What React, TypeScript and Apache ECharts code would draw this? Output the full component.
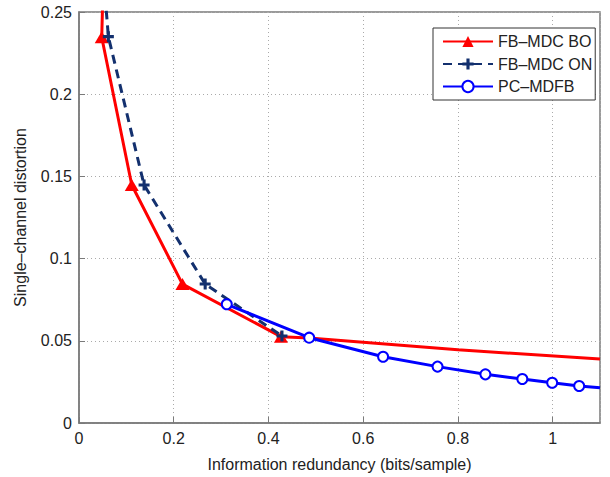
import React, { useEffect, useRef } from "react";
import * as echarts from "echarts";

const xTicks = [0, 0.2, 0.4, 0.6, 0.8, 1];
const yTicks = [0, 0.05, 0.1, 0.15, 0.2, 0.25];

const seriesNames = ["FB–MDC BO", "FB–MDC ON", "PC–MDFB"];

// FB-MDC BO (red, triangles)
const boX = [0.0503, 0.048, 0.1114, 0.2184, 0.4264, 0.486, 0.8, 1.1];
const boY = [0.26, 0.2346, 0.1448, 0.0845, 0.0525, 0.0517, 0.0445, 0.0389];
const boMarked = [false, true, true, true, true, false, false, false];

// FB-MDC ON (navy dashed, plus)
const onX = [0.055, 0.062, 0.1374, 0.2664, 0.4285];
const onY = [0.26, 0.235, 0.1448, 0.0845, 0.0529];
const onMarked = [false, true, true, true, true];

// PC-MDFB (blue, circles)
const pcX = [0.312, 0.486, 0.642, 0.757, 0.858, 0.936, 0.999, 1.056, 1.1];
const pcY = [0.0722, 0.0519, 0.0403, 0.0343, 0.0296, 0.0268, 0.0245, 0.0225, 0.0215];
const pcMarked = [true, true, true, true, true, true, true, true, false];

const PLUS = "path://M3.6,0H6.4V3.6H10V6.4H6.4V10H3.6V6.4H0V3.6H3.6Z";
const FONT = "Liberation Sans, Arial, Helvetica, sans-serif";
const AXIS_COLOR = "#7a7a7a";
const TEXT_COLOR = "#222";

function build(xs: number[], ys: number[], marked: boolean[]) {
  return xs.map((x, i) =>
    marked[i] ? { value: [x, ys[i]] } : { value: [x, ys[i]], symbol: "none" }
  );
}

export default function App() {
  const ref = useRef<HTMLDivElement>(null);
  useEffect(() => {
    if (!ref.current) return;
    const chart = echarts.init(ref.current, undefined, { renderer: "svg" });
    const xMin = xTicks[0];
    const xInt = xTicks[1] - xTicks[0];
    const yMin = yTicks[0];
    const yInt = yTicks[1] - yTicks[0];
    const yMax = yTicks[yTicks.length - 1];
    const commonLine = { show: true, lineStyle: { color: AXIS_COLOR, width: 1.5 } };
    const tick = { show: true, inside: true, length: 6, lineStyle: { color: AXIS_COLOR, width: 1 } };
    const grid = { show: true, lineStyle: { color: "#aaa", type: [1, 3], width: 1 } };
    chart.setOption({
      animation: false,
      backgroundColor: "#fff",
      textStyle: { fontFamily: FONT },
      grid: {
        left: 79, top: 12, right: 10, bottom: 54, containLabel: false,
        show: true, borderColor: AXIS_COLOR, borderWidth: 1.5, backgroundColor: "transparent",
      },
      legend: {
        orient: "vertical",
        left: 433,
        top: 28,
        itemWidth: 50,
        itemHeight: 14,
        itemGap: 6.5,
        padding: [5.5, 3, 5.5, 9],
        backgroundColor: "#fff",
        borderColor: "#333",
        borderWidth: 1,
        textStyle: { fontSize: 16, color: TEXT_COLOR, fontFamily: FONT },
        data: seriesNames,
      },
      xAxis: {
        type: "value",
        min: xMin,
        max: 1.1,
        interval: xInt,
        name: "Information redundancy (bits/sample)",
        nameLocation: "middle",
        nameGap: 33,
        nameTextStyle: { fontSize: 16, color: TEXT_COLOR, fontFamily: FONT },
        axisLine: commonLine,
        axisTick: tick,
        axisLabel: { fontSize: 16, color: TEXT_COLOR, margin: 7, showMaxLabel: false, fontFamily: FONT },
        splitLine: grid,
      },
      yAxis: {
        type: "value",
        min: yMin,
        max: yMax,
        interval: yInt,
        name: "Single–channel distortion",
        nameLocation: "middle",
        nameGap: 51,
        nameTextStyle: { fontSize: 16, color: TEXT_COLOR, fontFamily: FONT },
        axisLine: commonLine,
        axisTick: tick,
        axisLabel: { fontSize: 16, color: TEXT_COLOR, margin: 7, fontFamily: FONT },
        splitLine: grid,
      },
      series: [
        {
          name: seriesNames[0],
          type: "line",
          clip: true,
          data: build(boX, boY, boMarked),
          symbol: "triangle",
          symbolSize: [14, 12],
          showAllSymbol: true,
          itemStyle: { color: "#ff0000" },
          lineStyle: { color: "#ff0000", width: 3 },
          z: 2,
        },
        {
          name: seriesNames[1],
          type: "line",
          clip: true,
          data: build(onX, onY, onMarked),
          symbol: PLUS,
          symbolSize: 11,
          showAllSymbol: true,
          itemStyle: { color: "#13306e" },
          lineStyle: { color: "#13306e", width: 3, type: [9, 6] },
          z: 3,
        },
        {
          name: seriesNames[2],
          type: "line",
          clip: true,
          data: build(pcX, pcY, pcMarked),
          symbol: "emptyCircle",
          symbolSize: 10,
          showAllSymbol: true,
          itemStyle: { color: "#0000ff", borderWidth: 2.5, borderColor: "#0000ff" },
          lineStyle: { color: "#0000ff", width: 3 },
          z: 4,
        },
      ],
    });
    return () => chart.dispose();
  }, []);
  return <div ref={ref} style={{ width: 610, height: 477, position: "absolute", left: 0, top: 0 }} />;
}
